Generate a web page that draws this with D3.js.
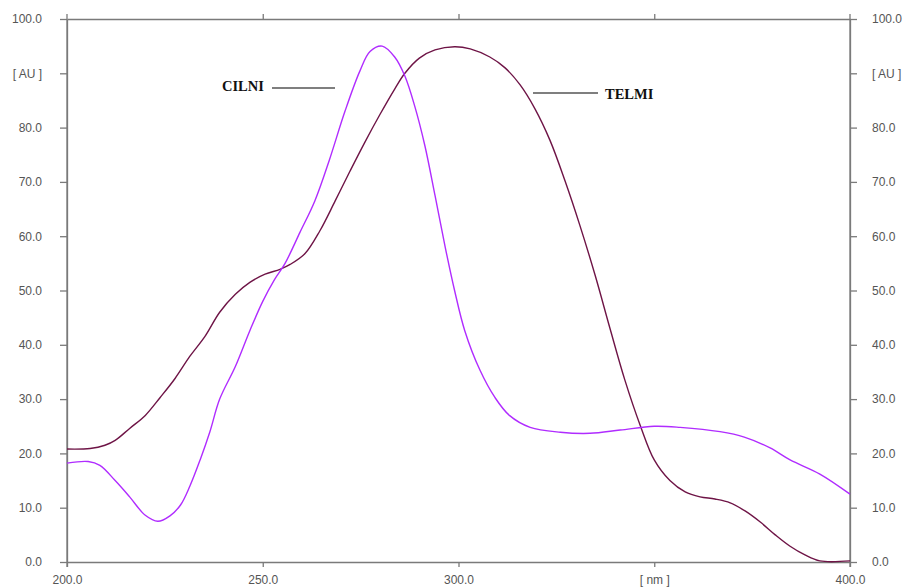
<!DOCTYPE html>
<html>
<head>
<meta charset="utf-8">
<script src="https://cdn.jsdelivr.net/npm/d3@7"></script>
<style>
  body { margin: 0; background: #fff; }
  .tick text { font-family: Arial, "Liberation Sans", sans-serif; font-size: 12px; fill: #555; }
  .legend { font-family: "Times New Roman", "Liberation Serif", serif; font-weight: bold; font-size: 14.5px; fill: #111; }
</style>
</head>
<body>
<div id="chart"></div>
<script>
// Chart size
let svgWidth = 905;
let svgHeight = 587;

let margin = { top: 19, right: 55, bottom: 25, left: 67 };
let width = 850 - margin.left;
let height = 562 - margin.top;

// wavelength (nm) and absorbance (AU)
let cilniNm = [200, 205.4, 208.4, 212.3, 216, 220, 223.2, 226.3, 229, 231.4, 234, 236.5, 239, 243, 246.7,
  250, 253, 255.7, 259.5, 263.3, 267, 271, 274.8, 277.4, 280.5, 283.7, 286.3, 288.8, 291.4, 294, 296.6,
  299, 301.6, 305.5, 309.3, 313, 318.3, 326, 333.6, 341.3, 350, 356.6, 366.8, 373, 379.6, 384.7, 392.3, 400];
let cilniAU = [18.2, 18.5, 17.8, 15, 12, 8.6, 7.5, 8.5, 10.5, 14, 18.8, 24, 30, 36, 42.6,
  48, 52, 55, 60.7, 66.5, 74, 83, 90.4, 94, 95, 93, 89.5, 84, 76.7, 67.5, 58,
  50, 42.6, 35.3, 30.3, 27, 24.8, 23.9, 23.7, 24.3, 25, 24.8, 24, 23, 21, 18.8, 16.2, 12.5];

let telmiNm = [200, 205.9, 209.7, 212.3, 216, 220, 223.8, 227.6, 231.4, 235.2, 239, 243, 246.7, 250.6,
  254.4, 257, 260.8, 264.6, 268.5, 272.3, 276, 280, 283.7, 286.3, 290, 294, 299, 303, 308, 311.9,
  315.7, 319.5, 323.4, 327.2, 331, 334.9, 338.7, 342.5, 346.4, 350, 354, 357.9, 361.7, 365.5, 369.4,
  373.2, 377, 380.9, 384.7, 388.5, 392.3, 400];
let telmiAU = [20.8, 20.9, 21.5, 22.4, 24.6, 27, 30.3, 33.8, 37.9, 41.5, 46, 49.3, 51.5, 53,
  53.9, 54.8, 56.8, 61, 66.5, 72, 77.2, 82.5, 87.1, 90, 92.8, 94.3, 94.9, 94.5, 93, 91,
  87.9, 83.5, 77.6, 70.2, 62, 52.8, 43, 33.5, 25.2, 18.8, 15, 12.9, 12, 11.6, 10.9,
  9.4, 7.4, 5, 2.9, 1.3, 0.2, 0.2];

let yTicks = [0, 10, 20, 30, 40, 50, 60, 70, 80, 90, 100];
let xTicks = [200, 250, 300, 350, 400];

let svg = d3.select('#chart')
    .append('svg')
    .attr('width', svgWidth)
    .attr('height', svgHeight);

let chartGroup = svg.append('g')
    .attr('transform', `translate(${margin.left}, ${margin.top})`);

let xScale = d3.scaleLinear().domain([200, 400]).range([0, width]);
let yScale = d3.scaleLinear().domain([0, 100]).range([height, 0]);

let yFormat = d => d === 90 ? '[ AU ]' : d.toFixed(1);
let xFormat = d => d === 350 ? '[ nm ]' : d.toFixed(1);

// axes
let leftAxis = d3.axisLeft(yScale).tickValues(yTicks).tickFormat(yFormat).tickSize(7).tickPadding(18).tickSizeOuter(0);
let rightAxis = d3.axisRight(yScale).tickValues(yTicks).tickFormat(yFormat).tickSize(7).tickPadding(15).tickSizeOuter(0);
let bottomAxis = d3.axisBottom(xScale).tickValues(xTicks).tickFormat(xFormat).tickSize(5).tickPadding(8).tickSizeOuter(0);
let topAxis = d3.axisTop(xScale).tickValues([250, 300, 350]).tickFormat('').tickSize(5).tickSizeOuter(0);

function styleAxis(g) {
    g.selectAll('path, line').attr('stroke', '#7a7a7a').attr('stroke-width', 1.3);
}

chartGroup.append('g').call(leftAxis).call(styleAxis);
chartGroup.append('g').attr('transform', `translate(${width},0)`).call(rightAxis).call(styleAxis);
chartGroup.append('g').attr('transform', `translate(0,${height})`).call(bottomAxis).call(styleAxis);
chartGroup.append('g').call(topAxis).call(styleAxis);

// make the side axes poke slightly past the frame like the original
chartGroup.append('line')
    .attr('x1', 0).attr('x2', 0).attr('y1', -5).attr('y2', height + 5)
    .attr('stroke', '#7a7a7a').attr('stroke-width', 1.3);
chartGroup.append('line')
    .attr('x1', width).attr('x2', width).attr('y1', -5).attr('y2', height + 5)
    .attr('stroke', '#7a7a7a').attr('stroke-width', 1.3);

// lines
let line = d3.line()
    .x(d => xScale(d[0]))
    .y(d => yScale(d[1]))
    .curve(d3.curveCatmullRom.alpha(0.5));

chartGroup.append('path')
    .datum(telmiNm.map((d, i) => [d, telmiAU[i]]))
    .attr('fill', 'none')
    .attr('stroke', '#6e1446')
    .attr('stroke-width', 1.4)
    .attr('d', line);

chartGroup.append('path')
    .datum(cilniNm.map((d, i) => [d, cilniAU[i]]))
    .attr('fill', 'none')
    .attr('stroke', '#b02cff')
    .attr('stroke-width', 1.4)
    .attr('d', line);

// labels with leader lines
svg.append('text').attr('class', 'legend').attr('x', 222).attr('y', 91).text('CILNI');
svg.append('line').attr('x1', 272).attr('x2', 335).attr('y1', 88).attr('y2', 88)
    .attr('stroke', '#555').attr('stroke-width', 1.3);

svg.append('text').attr('class', 'legend').attr('x', 605).attr('y', 99).text('TELMI');
svg.append('line').attr('x1', 533).attr('x2', 598).attr('y1', 93).attr('y2', 93)
    .attr('stroke', '#555').attr('stroke-width', 1.3);
</script>
</body>
</html>
